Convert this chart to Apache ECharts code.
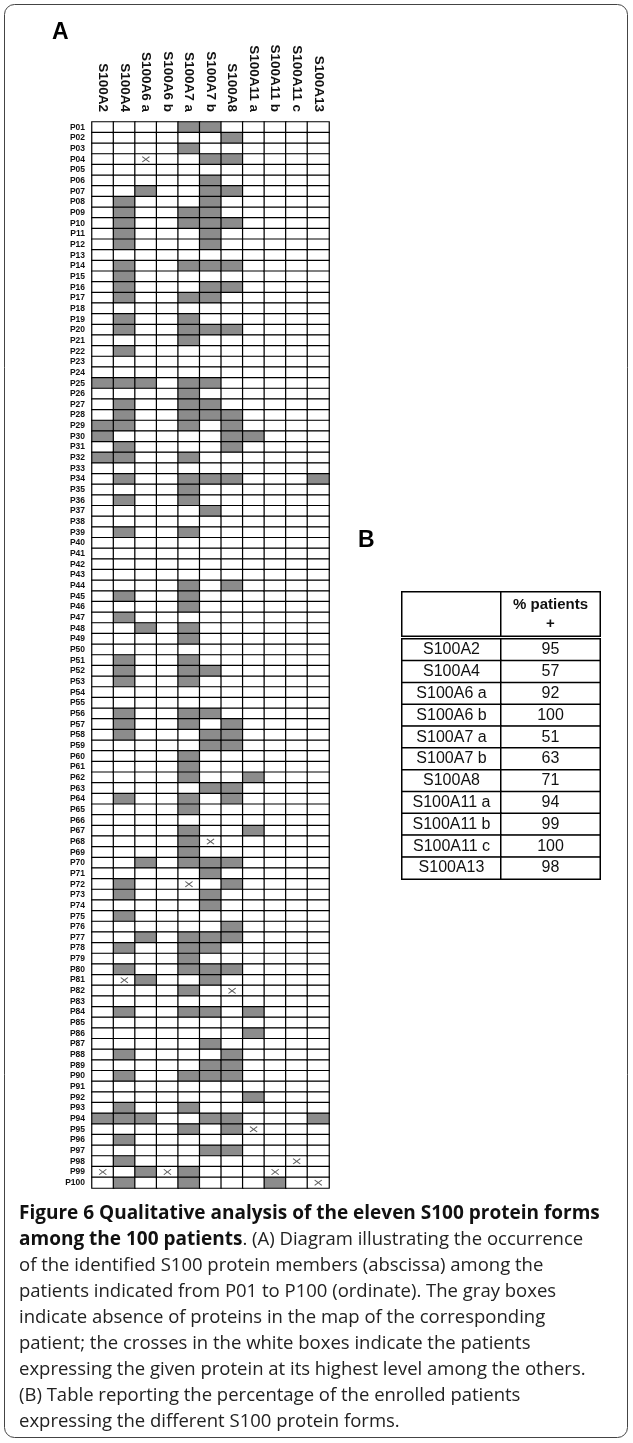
<!DOCTYPE html>
<html>
<head>
<meta charset="utf-8">
<script src="https://cdn.jsdelivr.net/npm/echarts@6/dist/echarts.min.js"></script>
<style>
  html, body { margin: 0; padding: 0; background: #fff; }
  #chart { width: 633px; height: 1443px; }
</style>
</head>
<body>
<div id="chart"></div>
<script>
// protein forms (abscissa)
var proteins = ['S100A2', 'S100A4', 'S100A6 a', 'S100A6 b', 'S100A7 a', 'S100A7 b',
  'S100A8', 'S100A11 a', 'S100A11 b', 'S100A11 c', 'S100A13'];

// patients P01..P100 (ordinate)
var patients = [];
for (var n = 1; n <= 100; n++) {
  patients.push('P' + (n < 10 ? '0' + n : n));
}

// gray boxes = protein absent in patient map (patient numbers)
var absentA2 = [25, 29, 30, 32, 94];
var absentA4 = [8, 9, 10, 11, 12, 14, 15, 16, 17, 19, 20, 22, 25, 27, 28, 29, 31, 32, 34, 36, 39,
  45, 47, 51, 52, 53, 56, 57, 58, 64, 72, 73, 75, 78, 80, 84, 88, 90, 93, 94, 96, 98, 100];
var absentA6a = [7, 25, 48, 70, 77, 81, 94, 99];
var absentA6b = [];
var absentA7a = [1, 3, 9, 10, 14, 17, 19, 20, 21, 25, 26, 27, 28, 29, 32, 34, 35, 36, 39, 44, 45,
  46, 48, 49, 51, 52, 53, 56, 57, 60, 61, 62, 64, 65, 67, 68, 69, 70, 77, 78, 79, 80, 82, 84, 90,
  93, 95, 99, 100];
var absentA7b = [1, 4, 6, 7, 8, 9, 10, 11, 12, 14, 16, 17, 20, 25, 27, 28, 34, 37, 52, 56, 58, 59,
  63, 70, 71, 73, 74, 77, 78, 80, 81, 84, 87, 89, 90, 94, 97];
var absentA8 = [2, 4, 7, 10, 14, 16, 20, 28, 29, 30, 31, 34, 44, 57, 58, 59, 63, 64, 70, 72, 76,
  77, 80, 88, 89, 90, 94, 95, 97];
var absentA11a = [30, 62, 67, 84, 86, 92];
var absentA11b = [100];
var absentA11c = [];
var absentA13 = [34, 94];

// crosses = protein at its highest level
var highestCells = [
  ['S100A6 a', 'P04'], ['S100A7 b', 'P68'], ['S100A7 a', 'P72'], ['S100A4', 'P81'],
  ['S100A8', 'P82'], ['S100A11 a', 'P95'], ['S100A11 c', 'P98'], ['S100A2', 'P99'],
  ['S100A6 b', 'P99'], ['S100A11 b', 'P99'], ['S100A13', 'P100']
];

// table B
var percentPositive = [95, 57, 92, 100, 51, 63, 71, 94, 99, 100, 98];
var tableCols = ['form', 'pct'];

var absentLists = [absentA2, absentA4, absentA6a, absentA6b, absentA7a, absentA7b,
  absentA8, absentA11a, absentA11b, absentA11c, absentA13];

var cells = [];
proteins.forEach(function (p, i) {
  patients.forEach(function (pt, j) {
    cells.push([i, j, absentLists[i].indexOf(j + 1) >= 0 ? 1 : 0]);
  });
});

var tableCells = [];
proteins.forEach(function (p, i) {
  tableCells.push([0, i, 0]);
  tableCells.push([1, i, 0]);
});

var gray = '#8c8c8c';
var font = 'Liberation Sans, Arial, sans-serif';

var myChart = echarts.init(document.getElementById('chart'));
myChart.setOption({
  animation: false,
  backgroundColor: '#fff',
  grid: [
    { left: 92, top: 122, width: 237, height: 1066 },
    { left: 402, top: 639, width: 198, height: 240 },
    { left: 402, top: 592, width: 198, height: 44 }
  ],
  xAxis: [
    {
      gridIndex: 0, type: 'category', data: proteins, position: 'top',
      axisLine: { show: false }, axisTick: { show: false }, splitLine: { show: false },
      axisLabel: { rotate: 90, interval: 0, margin: 10, fontSize: 13.5, fontWeight: 'bold', color: '#111', fontFamily: font }
    },
    { gridIndex: 1, type: 'category', data: tableCols, show: false },
    { gridIndex: 2, type: 'category', data: tableCols, show: false }
  ],
  yAxis: [
    {
      gridIndex: 0, type: 'category', data: patients, inverse: true,
      axisLine: { show: false }, axisTick: { show: false }, splitLine: { show: false },
      axisLabel: { interval: 0, margin: 7, fontSize: 8.5, fontWeight: 'bold', color: '#111', fontFamily: font }
    },
    { gridIndex: 1, type: 'category', data: proteins, inverse: true, show: false },
    { gridIndex: 2, type: 'category', data: ['header'], show: false }
  ],
  visualMap: {
    show: false, type: 'piecewise', seriesIndex: 0, dimension: 2,
    pieces: [{ value: 1, color: gray }, { value: 0, color: '#fff' }]
  },
  series: [
    {
      type: 'heatmap', xAxisIndex: 0, yAxisIndex: 0, data: cells,
      itemStyle: { borderColor: '#000', borderWidth: 1.2 },
      emphasis: { disabled: true }
    },
    {
      type: 'scatter', xAxisIndex: 0, yAxisIndex: 0, data: highestCells,
      symbol: 'path://M0,1 L1,0 L5,4 L9,0 L10,1 L6,5 L10,9 L9,10 L5,6 L1,10 L0,9 L4,5 Z',
      symbolSize: [8, 6], itemStyle: { color: '#333' }, z: 5
    },
    {
      type: 'heatmap', xAxisIndex: 1, yAxisIndex: 1, data: tableCells,
      itemStyle: { color: '#fff', borderColor: '#000', borderWidth: 1.5 },
      label: {
        show: true, fontSize: 16, color: '#111', fontFamily: font,
        formatter: function (p) {
          return p.value[0] === 0 ? proteins[p.value[1]] : String(percentPositive[p.value[1]]);
        }
      },
      emphasis: { disabled: true }
    },
    {
      type: 'heatmap', xAxisIndex: 2, yAxisIndex: 2, data: [[0, 0, 0], [1, 0, 0]],
      itemStyle: { color: '#fff', borderColor: '#000', borderWidth: 1.5 },
      label: {
        show: true, fontSize: 15, fontWeight: 'bold', color: '#111', fontFamily: font, lineHeight: 19,
        formatter: function (p) { return p.value[0] === 1 ? '% patients\n+' : ''; }
      },
      emphasis: { disabled: true }
    }
  ],
  graphic: [
    {
      type: 'rect', shape: { x: 4.5, y: 4.5, width: 623, height: 1433, r: 10 },
      style: { fill: 'none', stroke: '#444', lineWidth: 1 }, silent: true
    },
    { type: 'text', left: 52, top: 21, style: { text: 'A', font: 'bold 23px ' + font, fill: '#000' } },
    { type: 'text', left: 358, top: 529, style: { text: 'B', font: 'bold 23px ' + font, fill: '#000' } },
    {
      type: 'text', left: 19, top: 1204,
      style: {
        text: '{b|Figure 6 Qualitative analysis of the eleven S100 protein forms}\n' +
          '{b|among the 100 patients}{n|. (A) Diagram illustrating the occurrence}\n' +
          '{n|of the identified S100 protein members (abscissa) among the}\n' +
          '{n|patients indicated from P01 to P100 (ordinate). The gray boxes}\n' +
          '{n|indicate absence of proteins in the map of the corresponding}\n' +
          '{n|patient; the crosses in the white boxes indicate the patients}\n' +
          '{n|expressing the given protein at its highest level among the others.}\n' +
          '{n|(B) Table reporting the percentage of the enrolled patients}\n' +
          '{n|expressing the different S100 protein forms.}',
        rich: {
          b: { fontFamily: 'Open Sans', fontWeight: 'bold', fontSize: 19, lineHeight: 26, fill: '#111' },
          n: { fontFamily: 'Open Sans', fontSize: 18.5, lineHeight: 26, fill: '#222' }
        }
      }
    }
  ]
});
</script>
</body>
</html>
